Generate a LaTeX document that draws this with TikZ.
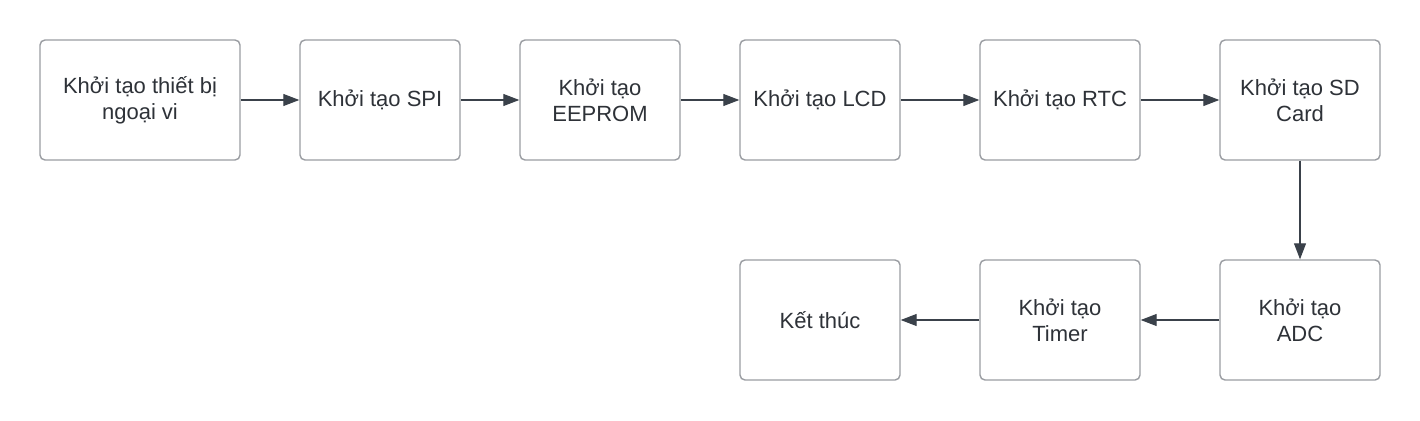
\documentclass[tikz,border=0pt]{standalone}
\usepackage{fontspec}
\setmainfont{Liberation Sans}
\usetikzlibrary{arrows.meta}
\definecolor{boxline}{HTML}{9A9DA2}
\definecolor{arrline}{HTML}{3A414A}
\definecolor{txt}{HTML}{2E3238}
\tikzset{
  khoi/.style={draw=boxline, line width=1.4pt, rounded corners=5pt, fill=white,
    minimum height=120pt, text=txt, align=center, font=\fontsize{22}{26}\selectfont},
  muiten/.style={draw=arrline, line width=1.1pt, -{Triangle[length=16pt,width=12pt]}}
}
\begin{document}
\begin{tikzpicture}[x=1pt,y=-1pt]
        \useasboundingbox[fill=white] (0,0) rectangle (1420,420);
        \node[khoi, minimum width=200pt] (kt) at (140,100) {Khởi tạo thiết bị\\ngoại vi};
        \node[khoi, minimum width=160pt] (spi) at (380,100) {Khởi tạo SPI};
        \node[khoi, minimum width=160pt] (eep) at (600,100) {Khởi tạo\\EEPROM};
        \node[khoi, minimum width=160pt] (lcd) at (820,100) {Khởi tạo LCD};
        \node[khoi, minimum width=160pt] (rtc) at (1060,100) {Khởi tạo RTC};
        \node[khoi, minimum width=160pt] (sd) at (1300,100) {Khởi tạo SD\\Card};
        \node[khoi, minimum width=160pt] (adc) at (1300,320) {Khởi tạo\\ADC};
        \node[khoi, minimum width=160pt] (tim) at (1060,320) {Khởi tạo\\Timer};
        \node[khoi, minimum width=160pt] (end) at (820,320) {Kết thúc};
        \draw[muiten] (kt) -- (spi);
        \draw[muiten] (spi) -- (eep);
        \draw[muiten] (eep) -- (lcd);
        \draw[muiten] (lcd) -- (rtc);
        \draw[muiten] (rtc) -- (sd);
        \draw[muiten] (sd) -- (adc);
        \draw[muiten] (adc) -- (tim);
        \draw[muiten] (tim) -- (end);
\end{tikzpicture}
\end{document}
